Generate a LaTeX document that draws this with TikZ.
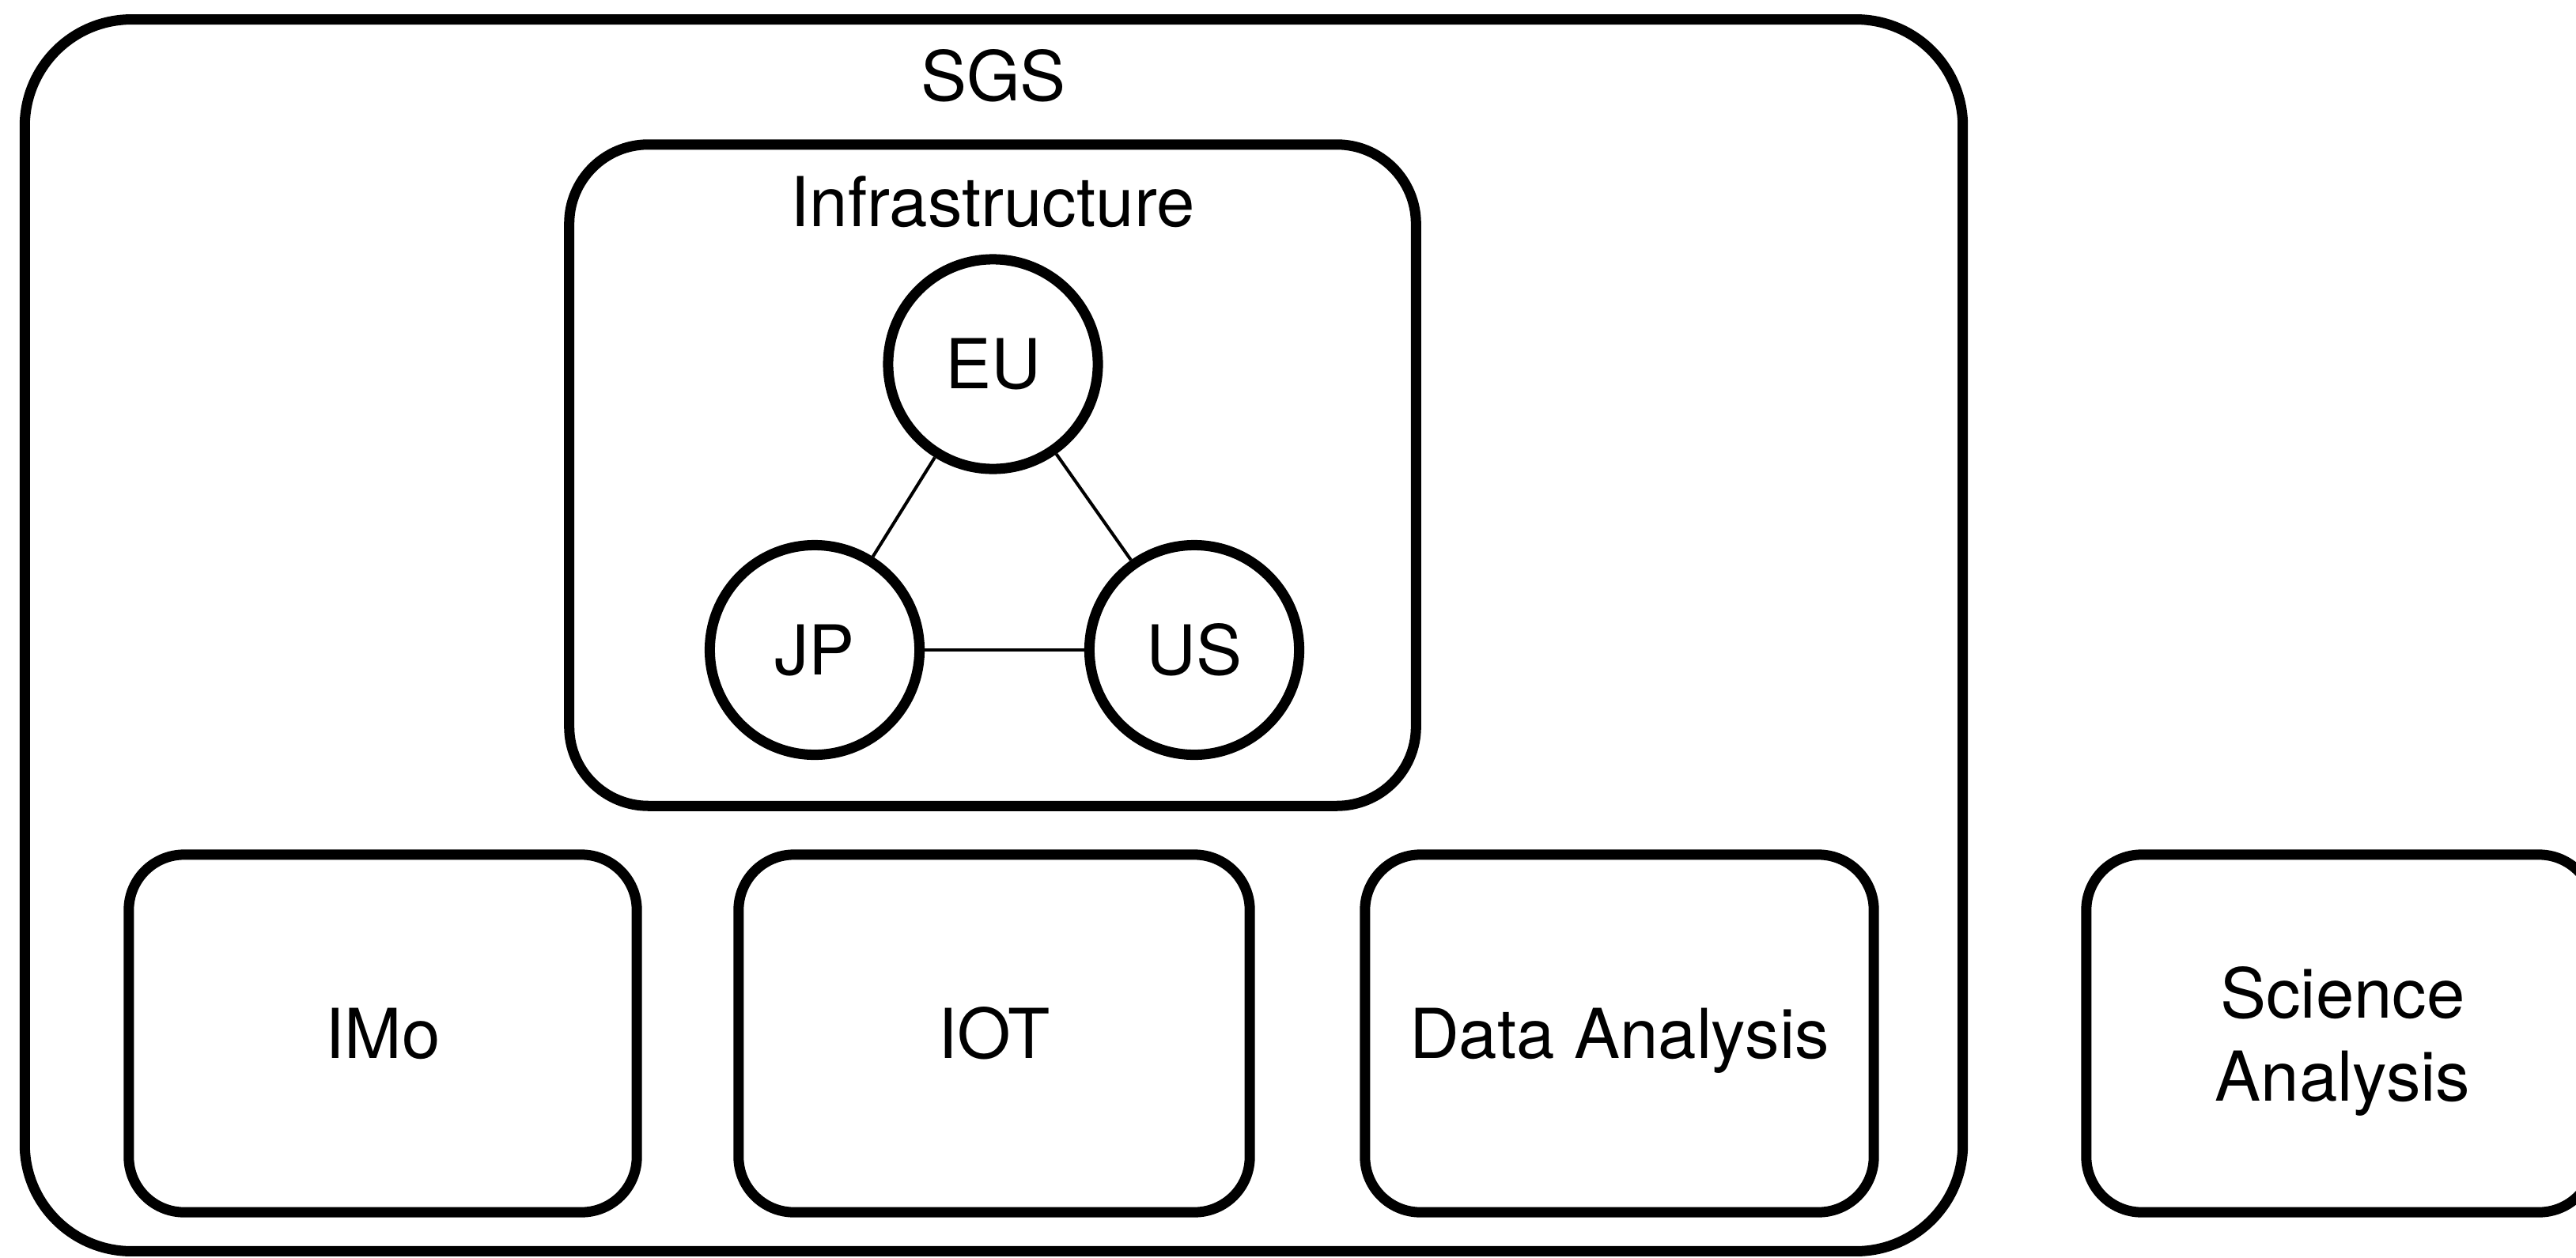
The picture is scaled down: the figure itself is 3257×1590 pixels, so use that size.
\documentclass[tikz,border=0pt]{standalone}
\usepackage{fontspec}
\setmainfont{TeX Gyre Heros}
\begin{document}
\begin{tikzpicture}[x=0.01cm,y=-0.01cm,
  txt/.style={font=\fontsize{24.75pt}{29.7pt}\selectfont, text height=0.625cm, text depth=0pt, inner sep=0pt},
  outerbox/.style={draw, line width=3.7pt, rounded corners=1.35cm, inner sep=0pt},
  infrabox/.style={draw, line width=3.7pt, rounded corners=1.0cm, inner sep=0pt},
  subbox/.style={draw, line width=3.7pt, rounded corners=0.7cm, inner sep=0pt, minimum height=4.52cm, txt},
  site/.style={draw, circle, line width=3.7pt, minimum size=2.65cm, inner sep=0pt, txt},
  link/.style={line width=1.15pt}]
\useasboundingbox (0,0) rectangle (3257,1590);
\clip (0,0) rectangle (3257,1590);
% containers
\node (sgs) [outerbox, minimum width=24.49cm, minimum height=15.57cm] at (1256.5,803.5) {};
\node (sgslabel) [txt] at (1256,96) {SGS};
\node (infra) [infrabox, minimum width=10.70cm, minimum height=8.36cm] at (1255,601) {};
\node (infralabel) [txt] at (1255,255) {Infrastructure};
% sites
\node (eu) [site] at (1255.5,460.5) {EU};
\node (jp) [site] at (1030,822) {JP};
\node (us) [site] at (1510,822) {US};
\draw[link] (eu) -- (jp);
\draw[link] (eu) -- (us);
\draw[link] (jp) -- (us);
% bottom boxes
\node (imo) [subbox, minimum width=6.42cm] at (484,1307) {IMo};
\node (iot) [subbox, minimum width=6.46cm] at (1257,1307) {IOT};
\node (data) [subbox, minimum width=6.43cm] at (2047.5,1307) {Data Analysis};
\node (sci) [draw, line width=3.7pt, rounded corners=0.7cm, inner sep=0pt, minimum height=4.52cm, minimum width=6.42cm] at (2959,1307) {};
\node (scilabel) [font=\fontsize{24.75pt}{29.7pt}\selectfont, align=center, inner sep=0pt, anchor=base] at (2962,1392) {Science\\Analysis};
\end{tikzpicture}
\end{document}
